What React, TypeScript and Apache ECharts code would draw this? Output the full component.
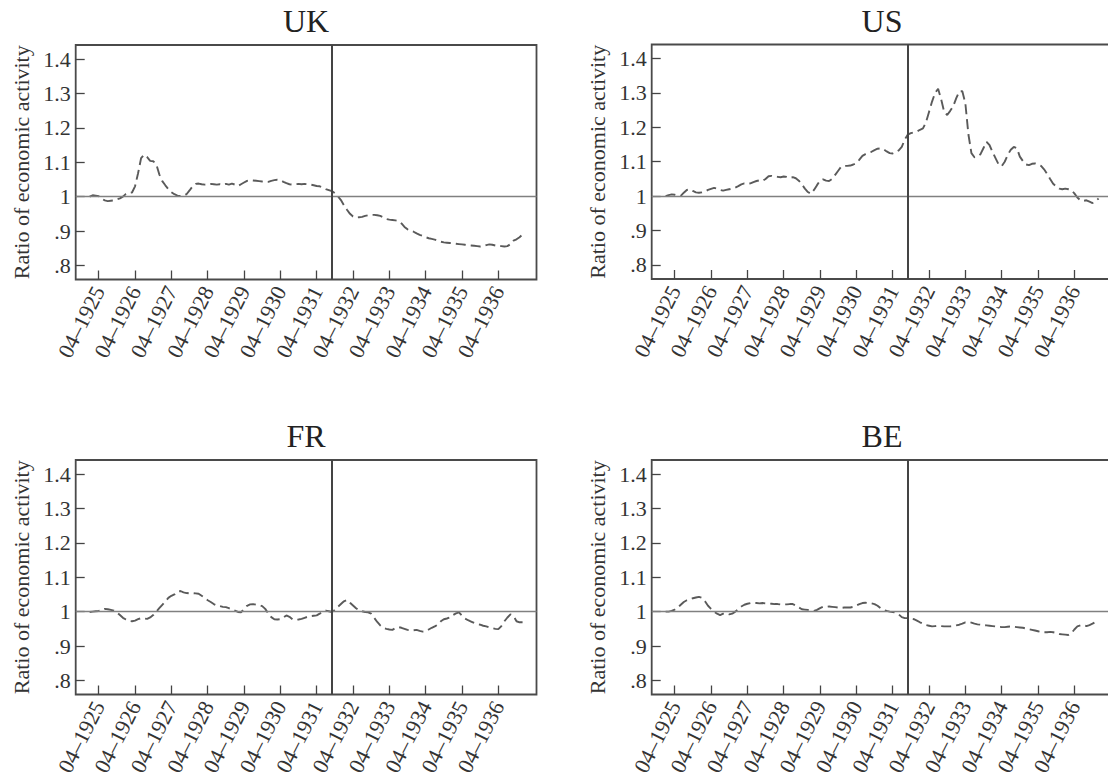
import React, { useEffect, useRef } from "react";
import * as echarts from "echarts";

// Month index 0 = January 1925, 143 = December 1936
const PANEL_NAMES = ["UK", "US", "FR", "BE"];

const UK = [
  1.000, 1.004, 1.003, 1.001, 0.994, 0.989, 0.987, 0.988, 0.989, 0.992, 0.995, 1.000,
  1.008, 1.011, 1.012, 1.030, 1.068, 1.112, 1.122, 1.115, 1.104, 1.103, 1.095, 1.065,
  1.045, 1.033, 1.022, 1.013, 1.007, 1.003, 1.002, 1.004, 1.007, 1.018, 1.030, 1.037,
  1.038, 1.036, 1.035, 1.036, 1.037, 1.036, 1.035, 1.036, 1.034, 1.037, 1.035, 1.038,
  1.035, 1.031, 1.036, 1.041, 1.046, 1.048, 1.047, 1.046, 1.045, 1.044, 1.043, 1.043,
  1.046, 1.048, 1.049, 1.048, 1.043, 1.039, 1.036, 1.035, 1.036, 1.037, 1.036, 1.037,
  1.036, 1.035, 1.033, 1.031, 1.030, 1.026, 1.022, 1.019, 1.016, 1.010, 1.001, 0.990,
  0.975, 0.962, 0.950, 0.942, 0.939, 0.940, 0.941, 0.944, 0.946, 0.947, 0.947, 0.946,
  0.944, 0.940, 0.935, 0.933, 0.932, 0.931, 0.929, 0.922, 0.912, 0.905, 0.902, 0.898,
  0.893, 0.889, 0.886, 0.882, 0.879, 0.877, 0.875, 0.872, 0.869, 0.867, 0.866, 0.865,
  0.864, 0.863, 0.862, 0.861, 0.860, 0.859, 0.858, 0.857, 0.856, 0.855, 0.856, 0.859,
  0.861, 0.860, 0.858, 0.857, 0.856, 0.855, 0.856, 0.862, 0.872, 0.876, 0.882, 0.890,
];

const US = [
  1.000, 1.003, 1.005, 1.004, 1.002, 1.001, 1.010, 1.018, 1.020, 1.015, 1.011, 1.010,
  1.011, 1.013, 1.018, 1.021, 1.024, 1.022, 1.018, 1.016, 1.018, 1.020, 1.022, 1.025,
  1.029, 1.034, 1.037, 1.036, 1.037, 1.041, 1.044, 1.046, 1.044, 1.050, 1.058, 1.059,
  1.057, 1.056, 1.055, 1.057, 1.056, 1.053, 1.055, 1.052, 1.045, 1.034, 1.022, 1.012,
  1.007, 1.018, 1.032, 1.045, 1.049, 1.045, 1.044, 1.050, 1.062, 1.074, 1.086, 1.088,
  1.088, 1.089, 1.092, 1.096, 1.106, 1.117, 1.122, 1.125, 1.129, 1.134, 1.138, 1.139,
  1.136, 1.130, 1.125, 1.124, 1.128, 1.133, 1.143, 1.165, 1.179, 1.183, 1.186, 1.188,
  1.193, 1.197, 1.215, 1.245, 1.275, 1.300, 1.312, 1.282, 1.245, 1.236, 1.248, 1.262,
  1.285, 1.305, 1.305, 1.270, 1.180, 1.125, 1.113, 1.115, 1.122, 1.140, 1.158, 1.148,
  1.128, 1.110, 1.092, 1.087, 1.100, 1.120, 1.135, 1.143, 1.140, 1.115, 1.102, 1.092,
  1.090, 1.094, 1.095, 1.092, 1.088, 1.078, 1.065, 1.050, 1.036, 1.028, 1.022, 1.020,
  1.022, 1.020, 1.017, 1.008, 0.996, 0.988, 0.986, 0.988, 0.984, 0.980, 0.985, 0.993,
];

const FR = [
  0.999, 1.000, 1.001, 1.002, 1.004, 1.008, 1.007, 1.005, 1.003, 0.998, 0.990, 0.982,
  0.977, 0.973, 0.972, 0.974, 0.978, 0.981, 0.980, 0.979, 0.983, 0.990, 1.000, 1.010,
  1.020, 1.030, 1.040, 1.046, 1.050, 1.058, 1.060, 1.056, 1.054, 1.053, 1.054, 1.053,
  1.052, 1.046, 1.040, 1.033, 1.028, 1.022, 1.018, 1.016, 1.014, 1.013, 1.010, 1.006,
  1.003, 0.999, 0.998, 1.008, 1.017, 1.021, 1.022, 1.020, 1.019, 1.016, 1.008, 0.995,
  0.984, 0.978, 0.977, 0.978, 0.983, 0.989, 0.985, 0.978, 0.976, 0.977, 0.979, 0.982,
  0.985, 0.987, 0.988, 0.989, 0.994, 1.000, 1.003, 1.001, 0.999, 1.005, 1.014, 1.022,
  1.030, 1.034, 1.026, 1.018, 1.010, 1.004, 1.001, 0.999, 0.998, 0.994, 0.982, 0.970,
  0.960, 0.953, 0.950, 0.948, 0.947, 0.952, 0.955, 0.953, 0.950, 0.947, 0.945, 0.946,
  0.947, 0.944, 0.942, 0.943, 0.948, 0.953, 0.957, 0.962, 0.972, 0.978, 0.980, 0.983,
  0.990, 0.995, 0.998, 0.988, 0.980, 0.975, 0.971, 0.967, 0.964, 0.962, 0.959, 0.957,
  0.954, 0.952, 0.950, 0.949, 0.958, 0.972, 0.983, 0.992, 0.987, 0.972, 0.969, 0.969,
];

const BE = [
  1.000, 1.000, 1.002, 1.006, 1.012, 1.020, 1.028, 1.033, 1.036, 1.039, 1.041, 1.043,
  1.040, 1.030, 1.017, 1.008, 1.000, 0.994, 0.990, 0.994, 0.995, 0.992, 0.994, 1.000,
  1.008, 1.015, 1.020, 1.023, 1.025, 1.026, 1.025, 1.024, 1.025, 1.024, 1.024, 1.023,
  1.022, 1.022, 1.021, 1.021, 1.021, 1.022, 1.022, 1.018, 1.012, 1.007, 1.006, 1.005,
  1.003, 1.002, 1.005, 1.010, 1.014, 1.014, 1.015, 1.014, 1.013, 1.012, 1.011, 1.012,
  1.012, 1.012, 1.014, 1.018, 1.022, 1.025, 1.026, 1.025, 1.024, 1.022, 1.017, 1.010,
  1.005, 1.002, 1.000, 0.999, 0.997, 0.992, 0.984, 0.981, 0.981, 0.980, 0.978, 0.974,
  0.969, 0.965, 0.961, 0.959, 0.957, 0.958, 0.959, 0.958, 0.957, 0.957, 0.957, 0.958,
  0.960, 0.962, 0.965, 0.969, 0.970, 0.968, 0.965, 0.963, 0.962, 0.961, 0.960, 0.959,
  0.958, 0.957, 0.956, 0.955, 0.955, 0.956, 0.957, 0.956, 0.955, 0.954, 0.953, 0.951,
  0.949, 0.947, 0.945, 0.943, 0.941, 0.940, 0.940, 0.941, 0.940, 0.938, 0.935, 0.934,
  0.933, 0.932, 0.937, 0.948, 0.957, 0.960, 0.961, 0.958, 0.961, 0.965, 0.970, 0.972,
];

const X_TICK_MONTHS = [3, 15, 27, 39, 51, 63, 75, 87, 99, 111, 123, 135];
const X_TICK_LABELS = [
  "04–1925", "04–1926", "04–1927", "04–1928", "04–1929", "04–1930",
  "04–1931", "04–1932", "04–1933", "04–1934", "04–1935", "04–1936",
];
const Y_TICKS = [0.8, 0.9, 1.0, 1.1, 1.2, 1.3, 1.4];
const Y_TICK_LABELS = [".8", ".9", "1", "1.1", "1.2", "1.3", "1.4"];
const Y_NAME = "Ratio of economic activity";
const BREAK_MONTH = 80; // 09-1931
const BASELINE = 1;

const SERIES = [UK, US, FR, BE];

const FONT = "Liberation Serif";
const GRID_W = 460.8;
const GRID_H = 234.5;
const LAYOUT = [
  { left: 75.7, top: 45, cx: 306, ty: 5 },
  { left: 651.7, top: 44.5, cx: 882, ty: 5 },
  { left: 75.7, top: 460, cx: 306, ty: 420 },
  { left: 651.7, top: 460, cx: 882, ty: 420 },
];

function buildOption() {
  const grid: any[] = [];
  const xAxis: any[] = [];
  const yAxis: any[] = [];
  const series: any[] = [];
  const title: any[] = [];

  PANEL_NAMES.forEach((name, i) => {
    const L = LAYOUT[i];
    grid.push({
      left: L.left,
      top: L.top,
      width: GRID_W,
      height: GRID_H,
      containLabel: false,
      outerBoundsMode: "none",
      show: true,
      borderColor: "#4a4a4a",
      borderWidth: 1.8,
      backgroundColor: "transparent",
    });
    title.push({
      text: name,
      left: L.cx,
      top: L.ty,
      textAlign: "center",
      padding: 0,
      textStyle: { fontFamily: FONT, fontSize: 32, fontWeight: "normal", color: "#222" },
    });
    xAxis.push({
      type: "value",
      gridIndex: i,
      min: -4.6,
      max: 147.6,
      splitLine: { show: false },
      axisLine: { show: false, onZero: false },
      axisTick: {
        show: true,
        inside: true,
        length: 9,
        customValues: X_TICK_MONTHS,
        lineStyle: { color: "#444", width: 1.3 },
      },
      axisLabel: {
        show: true,
        customValues: X_TICK_MONTHS,
        rotate: 63,
        margin: 8,
        fontFamily: FONT,
        fontSize: 22,
        color: "#333",
        formatter: (v: number) => {
          const k = X_TICK_MONTHS.indexOf(Math.round(v));
          return k >= 0 ? X_TICK_LABELS[k] : "";
        },
      },
    });
    yAxis.push({
      type: "value",
      gridIndex: i,
      min: 0.759,
      max: 1.441,
      name: Y_NAME,
      nameLocation: "middle",
      nameRotate: 90,
      nameGap: 43,
      nameMoveOverlap: false,
      nameTextStyle: { fontFamily: FONT, fontSize: 22, color: "#333" },
      splitLine: { show: false },
      axisLine: { show: false, onZero: false },
      axisTick: {
        show: true,
        inside: true,
        length: 9,
        customValues: Y_TICKS,
        lineStyle: { color: "#444", width: 1.3 },
      },
      axisLabel: {
        show: true,
        customValues: Y_TICKS,
        margin: 5,
        fontFamily: FONT,
        fontSize: 22,
        color: "#333",
        formatter: (v: number) => {
          const k = Y_TICKS.findIndex((t) => Math.abs(t - v) < 1e-6);
          return k >= 0 ? Y_TICK_LABELS[k] : "";
        },
      },
    });
    series.push({
      type: "line",
      xAxisIndex: i,
      yAxisIndex: i,
      data: SERIES[i].map((v, t) => [t, v]),
      showSymbol: false,
      symbol: "none",
      smooth: false,
      lineStyle: { color: "#5a5a5a", width: 1.9, type: [10, 5] },
      markLine: {
        silent: true,
        symbol: ["none", "none"],
        label: { show: false },
        animation: false,
        data: [
          { yAxis: BASELINE, lineStyle: { color: "#808080", width: 1.3, type: "solid" } },
          { xAxis: BREAK_MONTH, lineStyle: { color: "#444", width: 2, type: "solid" } },
        ],
      },
      z: 3,
    });
  });

  return {
    animation: false,
    backgroundColor: "#ffffff",
    title,
    grid,
    xAxis,
    yAxis,
    series,
  };
}

export default function App() {
  const ref = useRef<HTMLDivElement>(null);
  useEffect(() => {
    if (!ref.current) return;
    const chart = echarts.init(ref.current, undefined, { renderer: "svg" });
    chart.setOption(buildOption() as any);
    return () => chart.dispose();
  }, []);
  return (
    <div
      ref={ref}
      style={{ position: "fixed", left: 0, top: 0, width: 1108, height: 782, background: "#fff" }}
    />
  );
}
